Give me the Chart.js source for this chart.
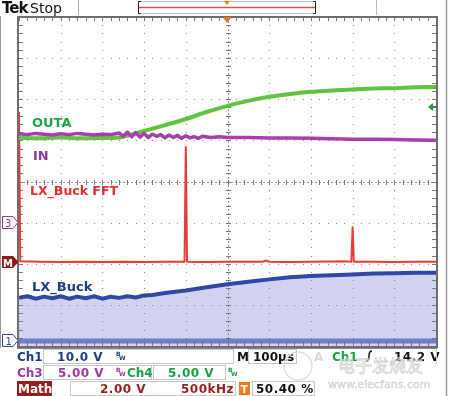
<!DOCTYPE html>
<html>
<head>
<meta charset="utf-8">
<script src="https://cdn.jsdelivr.net/npm/chart.js@4/dist/chart.umd.min.js"></script>
<style>
  html, body { margin: 0; padding: 0; background: #fff; }
  #wrap { position: relative; width: 450px; height: 396px; overflow: hidden; }
  #c { position: absolute; left: 0; top: 0; }
  #ov { position: absolute; left: 0; top: 0; }
  .t { font-family: "DejaVu Sans", sans-serif; font-weight: bold; }
</style>
</head>
<body>
<div id="wrap">
<canvas id="c" width="450" height="396"></canvas>
<svg id="ov" width="450" height="396" xmlns="http://www.w3.org/2000/svg">
  <!-- frame lines -->
  <line x1="0.5" y1="16" x2="0.5" y2="348" stroke="#9a9a9a" stroke-width="1"/>
  <line x1="446.5" y1="0" x2="446.5" y2="396" stroke="#9a9a9a" stroke-width="1.5"/>
  <!-- top bar -->
  <text x="2" y="13" class="t" font-size="15" fill="#111" letter-spacing="-1">Tek</text>
  <text x="30" y="13" font-family="DejaVu Sans, sans-serif" font-size="14" fill="#111">Stop</text>
  <line x1="78.5" y1="0" x2="78.5" y2="15" stroke="#aaa"/>
  <line x1="376.5" y1="0" x2="376.5" y2="15" stroke="#bbb"/>
  <rect x="138.5" y="1.5" width="177" height="12" fill="none" stroke="#c8c8c8"/>
  <path d="M141 1.5 H138.5 V13.5 H141 M313 1.5 H315.5 V13.5 H313" fill="none" stroke="#222" stroke-width="1"/>
  <line x1="139" y1="7.5" x2="315" y2="7.5" stroke="#e05050" stroke-width="1.5"/>
  <path d="M224 1 L230 1 L227 5 Z" fill="#f08020"/>
  <!-- trigger position -->
  <path d="M222.5 17 L231.5 17 L227 23 Z" fill="#f07a1a"/>
  <!-- trigger level arrow -->
  <path d="M428 107 L433 103 L433 111 Z" fill="#1e9e40"/>
  <line x1="432" y1="107" x2="436" y2="107" stroke="#1e9e40" stroke-width="2"/>
  <!-- trace labels -->
  <text x="32" y="127" class="t" font-size="13" fill="#1fa64a">OUTA</text>
  <text x="33" y="160" class="t" font-size="13" fill="#8e3aa0">IN</text>
  <text x="30" y="195" class="t" font-size="12.5" fill="#e2302e">LX_Buck FFT</text>
  <text x="32" y="291" class="t" font-size="13" fill="#1f3d8f">LX_Buck</text>
  <!-- channel markers -->
  <path d="M2.5 216.5 H13 L18 222.5 L13 228.5 H2.5 Z" fill="#fff" stroke="#9b3aa0"/>
  <text x="5" y="227" font-family="DejaVu Sans, sans-serif" font-size="10" fill="#9b3aa0">3</text>
  <path d="M2 256 H13 L18.5 262 L13 268 H2 Z" fill="#8c1a1a"/>
  <text x="3" y="266.5" class="t" font-size="10" fill="#fff">M</text>
  <path d="M2.5 334.5 H13 L18 340.5 L13 346.5 H2.5 Z" fill="#fff" stroke="#2d4aa0"/>
  <text x="5.5" y="345" font-family="DejaVu Sans, sans-serif" font-size="10" fill="#2d4aa0">1</text>
  <!-- bottom status area -->
  <line x1="17" y1="348.5" x2="437" y2="348.5" stroke="#888"/>
  <!-- row 1 -->
  <text x="17" y="361" class="t" font-size="12" fill="#1f3d8f">Ch1</text>
  <rect x="43.5" y="349.5" width="190" height="14" fill="none" stroke="#c8c8c8"/>
  <text x="57" y="361" class="t" font-size="12" fill="#1f3d8f" letter-spacing="0.5">10.0 V</text>
  <text x="116" y="356" class="t" font-size="6" fill="#1f3d8f">B</text>
  <text x="119" y="360" class="t" font-size="6" fill="#1f3d8f">W</text>
  <text x="237" y="361" class="t" font-size="12" fill="#111">M</text>
  <rect x="248.5" y="349.5" width="48" height="14" fill="none" stroke="#c8c8c8"/>
  <text x="253" y="361" class="t" font-size="12" fill="#111">100µs</text>
  <text x="314" y="361" class="t" font-size="12" fill="#d8d8d8">A</text>
  <text x="332" y="361" class="t" font-size="12" fill="#1aa04a">Ch1</text>
  <path d="M366 361 Q369 361 369 356 Q369 351 372 351" fill="none" stroke="#111" stroke-width="1.5"/>
  <text x="394" y="361" class="t" font-size="12" fill="#111" letter-spacing="0.5">14.2 V</text>
  <line x1="436.5" y1="349" x2="436.5" y2="364" stroke="#c8c8c8"/>
  <!-- row 2 -->
  <text x="17" y="377" class="t" font-size="12" fill="#9b3aa0">Ch3</text>
  <rect x="43.5" y="365.5" width="108" height="14" fill="none" stroke="#c8c8c8"/>
  <text x="58" y="377" class="t" font-size="12" fill="#9b3aa0" letter-spacing="0.5">5.00 V</text>
  <text x="116" y="372" class="t" font-size="6" fill="#9b3aa0">B</text>
  <text x="119" y="376" class="t" font-size="6" fill="#9b3aa0">W</text>
  <text x="127" y="377" class="t" font-size="12" fill="#1aa04a">Ch4</text>
  <rect x="153.5" y="365.5" width="72" height="14" fill="none" stroke="#c8c8c8"/>
  <text x="168" y="377" class="t" font-size="12" fill="#1aa04a" letter-spacing="0.5">5.00 V</text>
  <text x="228" y="372" class="t" font-size="6" fill="#1aa04a">B</text>
  <text x="231" y="376" class="t" font-size="6" fill="#1aa04a">W</text>
  <!-- row 3 -->
  <rect x="17" y="381" width="35" height="15" fill="#9c1c1c"/>
  <text x="18" y="393" class="t" font-size="12" fill="#fff">Math</text>
  <rect x="70.5" y="381.5" width="165" height="14" fill="none" stroke="#c8c8c8"/>
  <text x="100" y="393" class="t" font-size="12" fill="#9c1c1c" letter-spacing="0.5">2.00 V</text>
  <text x="181" y="393" class="t" font-size="12" fill="#9c1c1c" letter-spacing="0.5">500kHz</text>
  <rect x="239" y="382" width="11" height="13" fill="#f07a1a"/>
  <text x="240.5" y="393" class="t" font-size="11" fill="#fff">T</text>
  <rect x="252.5" y="381.5" width="62" height="14" fill="none" stroke="#c8c8c8"/>
  <text x="256" y="393" class="t" font-size="12" fill="#111" letter-spacing="0.5">50.40 %</text>
  <!-- watermark -->
  <circle cx="298" cy="366" r="14" fill="none" stroke="#e2e2e2" stroke-width="1.5"/>
  <text x="338" y="372" font-family="Noto Sans CJK SC, sans-serif" font-size="17" fill="none" stroke="#d0d0d0" stroke-width="0.8">电子发烧友</text>
  <text x="328" y="388" font-family="DejaVu Sans, sans-serif" font-size="11" fill="#e6e6e6" stroke="#c8c8c8" stroke-width="0.4">www.elecfans.com</text>
</svg>
</div>
<script>
// ---- data (x in divisions of 100 µs, y in screen divisions) ----
const outaX = [0, 0.5, 1, 1.5, 2, 2.4, 3, 3.5, 4, 4.5, 5, 5.5, 6, 6.5, 7, 7.5, 8, 8.5, 9, 9.5, 10];
const outaY = [5.06, 5.05, 5.07, 5.05, 5.06, 5.07, 5.23, 5.37, 5.52, 5.69, 5.84, 5.96, 6.06, 6.13, 6.18, 6.21, 6.24, 6.26, 6.27, 6.29, 6.30];

const inX = [0, 0.2, 0.4, 0.6, 0.8, 1.0, 1.2, 1.4, 1.6, 1.8, 2.0, 2.2, 2.4, 2.5, 2.6, 2.7, 2.8, 2.9, 3.0, 3.1, 3.2, 3.3, 3.4, 3.5, 3.6, 3.7, 3.8, 3.9, 4.0, 4.1, 4.2, 4.3, 4.4, 4.6, 4.8, 5.0, 5.5, 6.0, 6.5, 7.0, 7.5, 8.0, 8.5, 9.0, 9.5, 10];
const inY = [5.16, 5.14, 5.17, 5.15, 5.13, 5.16, 5.14, 5.17, 5.15, 5.13, 5.15, 5.14, 5.18, 5.10, 5.20, 5.09, 5.19, 5.08, 5.17, 5.07, 5.15, 5.10, 5.14, 5.06, 5.13, 5.07, 5.12, 5.05, 5.11, 5.06, 5.09, 5.05, 5.10, 5.07, 5.09, 5.07, 5.07, 5.06, 5.06, 5.05, 5.04, 5.03, 5.03, 5.02, 5.01, 5.00];

const fftX = [0, 0.03, 0.5, 1, 1.5, 2, 2.5, 3, 3.5, 3.97, 4.0, 4.03, 4.5, 5, 5.85, 5.92, 6.0, 6.5, 7, 7.8, 7.97, 8.0, 8.03, 8.5, 9, 9.5, 10];
const fftY = [5.69, 2.06, 2.05, 2.04, 2.05, 2.04, 2.05, 2.04, 2.05, 2.05, 4.84, 2.05, 2.04, 2.05, 2.05, 2.08, 2.05, 2.04, 2.05, 2.06, 2.05, 2.89, 2.05, 2.05, 2.04, 2.05, 2.05];

const lxX = [0, 0.2, 0.4, 0.6, 0.8, 1.0, 1.2, 1.4, 1.6, 1.8, 2.0, 2.2, 2.4, 2.6, 2.8, 3.0, 3.2, 3.5, 4.0, 4.5, 5.0, 5.5, 6.0, 6.5, 7.0, 7.5, 8.0, 8.5, 9.0, 9.5, 10];
const lxY = [1.17, 1.21, 1.15, 1.20, 1.16, 1.21, 1.15, 1.20, 1.16, 1.21, 1.15, 1.20, 1.17, 1.21, 1.18, 1.23, 1.24, 1.29, 1.35, 1.43, 1.50, 1.56, 1.62, 1.67, 1.70, 1.72, 1.74, 1.76, 1.77, 1.78, 1.78];

const lxFloorX = [0, 10];
const lxFloorY = [0.12, 0.12];

const pts = (xs, ys) => xs.map((x, i) => ({ x, y: ys[i] }));

// ---- oscilloscope graticule plugin ----
const graticule = {
  id: 'graticule',
  beforeDatasetsDraw(chart) {
    const { ctx, scales: { x, y } } = chart;
    const X = v => Math.round(x.getPixelForValue(v));
    const Y = v => Math.round(y.getPixelForValue(v));
    ctx.save();
    ctx.fillStyle = '#8a8a8a';
    for (let i = 1; i < 10; i++) {
      if (i === 5) continue;
      for (let j = 0; j <= 40; j++) ctx.fillRect(X(i), Y(j / 5), 1, 1);
    }
    for (let j = 1; j < 8; j++) {
      if (j === 4) continue;
      for (let i = 0; i <= 50; i++) ctx.fillRect(X(i / 5), Y(j), 1, 1);
    }
    ctx.strokeStyle = '#9a9a9a';
    ctx.lineWidth = 1;
    ctx.setLineDash([2, 2]);
    ctx.beginPath();
    ctx.moveTo(X(5) + 0.5, Y(8)); ctx.lineTo(X(5) + 0.5, Y(0));
    ctx.moveTo(X(0), Y(4) + 0.5); ctx.lineTo(X(10), Y(4) + 0.5);
    ctx.stroke();
    ctx.setLineDash([]);
    ctx.strokeStyle = '#7a7a7a';
    ctx.beginPath();
    for (let j = 0; j <= 40; j++) {
      const py = Y(j / 5) + 0.5;
      ctx.moveTo(X(5) - 2, py); ctx.lineTo(X(5) + 3, py);
      ctx.moveTo(X(0), py); ctx.lineTo(X(0) + 4, py);
      ctx.moveTo(X(10) - 4, py); ctx.lineTo(X(10), py);
    }
    for (let i = 0; i <= 50; i++) {
      const px = X(i / 5) + 0.5;
      ctx.moveTo(px, Y(4) - 2); ctx.lineTo(px, Y(4) + 3);
      ctx.moveTo(px, Y(8)); ctx.lineTo(px, Y(8) + 4);
      ctx.moveTo(px, Y(0) - 4); ctx.lineTo(px, Y(0));
    }
    ctx.stroke();
    ctx.restore();
  },
  afterDatasetsDraw(chart) {
    const { ctx, chartArea: a } = chart;
    ctx.save();
    ctx.strokeStyle = '#6e6e6e';
    ctx.lineWidth = 2;
    ctx.strokeRect(a.left - 1, a.top, a.right - a.left + 2, a.bottom - a.top + 1);
    ctx.restore();
  }
};

new Chart(document.getElementById('c'), {
  type: 'line',
  data: {
    datasets: [
      { label: 'LX_Buck floor', data: pts(lxFloorX, lxFloorY), borderColor: 'rgba(55,75,175,0.7)', borderWidth: 5, order: 5 },
      { label: 'LX_Buck', data: pts(lxX, lxY), borderColor: '#2f48a6', borderWidth: 4, fill: 'origin', backgroundColor: 'rgba(118,124,205,0.34)', order: 4 },
      { label: 'LX_Buck FFT', data: pts(fftX, fftY), borderColor: '#ea3b3b', borderWidth: 2, order: 3 },
      { label: 'OUTA', data: pts(outaX, outaY), borderColor: '#62c43e', borderWidth: 4, tension: 0.3, order: 2 },
      { label: 'IN', data: pts(inX, inY), borderColor: '#a53fab', borderWidth: 3.5, order: 1 }
    ]
  },
  options: {
    responsive: false,
    animation: false,
    layout: { padding: { left: 19, right: 14, top: 17, bottom: 50 } },
    elements: { point: { radius: 0 }, line: { borderJoinStyle: 'round' } },
    plugins: { legend: { display: false }, tooltip: { enabled: false }, title: { display: false } },
    scales: {
      x: { type: 'linear', min: 0, max: 10, display: false },
      y: { type: 'linear', min: 0, max: 8, display: false }
    }
  },
  plugins: [graticule]
});
</script>
</body>
</html>
